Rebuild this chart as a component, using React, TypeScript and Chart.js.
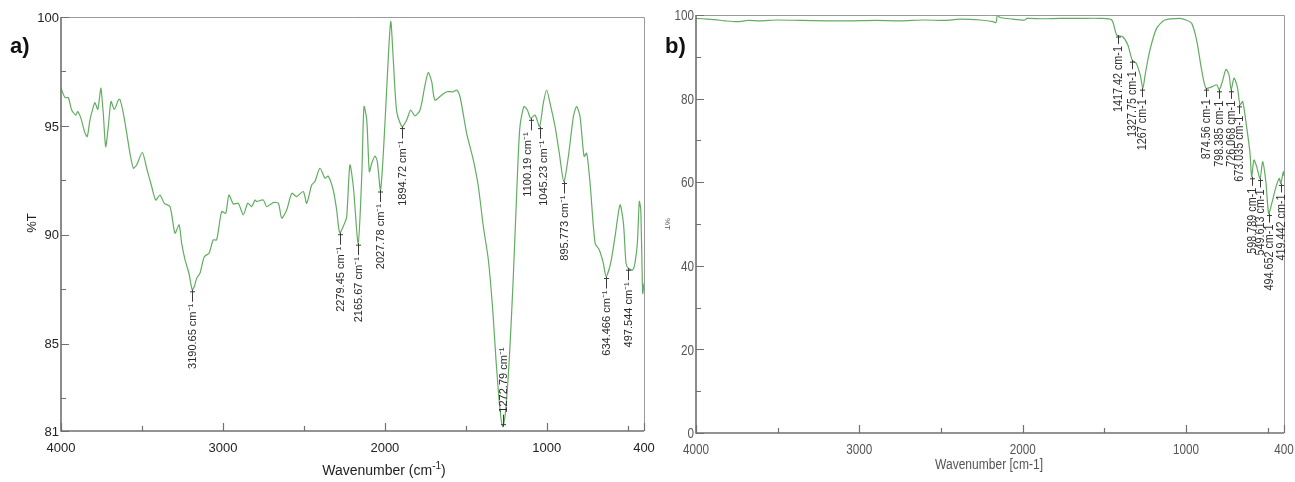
import React, { useEffect, useRef } from "react";
import { Chart, registerables } from "chart.js";

Chart.register(...registerables);

// ---------- Panel a) data ----------
const wnA = [
  4000, 3992, 3975, 3955, 3934, 3909, 3897, 3877, 3852, 3838, 3821, 3800, 3790, 3773, 3759, 3753, 3739, 3724, 3708, 3691,
  3671, 3646, 3636, 3615, 3594, 3574, 3553, 3533, 3498, 3471, 3440, 3415, 3389, 3362, 3327, 3296, 3271, 3255, 3234, 3210,
  3190, 3177, 3162, 3142, 3115, 3086, 3060, 3039, 3008, 2983, 2963, 2936, 2905, 2874, 2847, 2822, 2802, 2792, 2751, 2730,
  2689, 2658, 2637, 2606, 2575, 2545, 2504, 2483, 2452, 2432, 2401, 2370, 2350, 2319, 2298, 2279, 2253, 2236, 2216, 2195,
  2165, 2143, 2129, 2112, 2096, 2081, 2061, 2047, 2027, 2005, 1985, 1964, 1948, 1927, 1894, 1865, 1841, 1814, 1783, 1752,
  1732, 1711, 1691, 1649, 1618, 1577, 1557, 1536, 1495, 1454, 1423, 1392, 1361, 1334, 1314, 1289, 1272, 1256, 1232, 1207,
  1182, 1166, 1141, 1120, 1100, 1073, 1045, 1022, 1001, 980, 949, 923, 895, 867, 836, 816, 795, 770, 754, 733,
  702, 676, 651, 634, 606, 579, 548, 527, 511, 497, 470, 456, 441, 429, 420, 408, 400,
];
const tA = [
  96.73, 96.57, 96.3, 96.3, 95.73, 95.5, 95.66, 95.35, 94.68, 94.51, 95.28, 95.89, 96.07, 95.76, 96.5, 96.73, 95.58, 94.05, 94.97, 96.12,
  95.76, 96.19, 96.22, 95.58, 94.66, 93.74, 93.06, 93.21, 93.78, 93.06, 92.22, 91.6, 91.83, 91.45, 91.3, 90.08, 90.46, 89.62, 88.85, 88.24,
  87.48, 87.63, 88.01, 88.24, 89.0, 89.16, 89.77, 89.77, 91.07, 90.99, 91.83, 91.42, 91.45, 90.92, 91.45, 91.3, 91.6, 91.53, 91.6, 91.3,
  91.48, 91.45, 90.77, 91.15, 91.91, 91.76, 91.99, 91.45, 92.29, 92.45, 93.06, 92.6, 92.7, 92.06, 91.15, 90.1, 90.46, 90.84, 93.21, 92.22,
  89.62, 92.67, 95.89, 95.28, 92.9, 93.29, 93.62, 93.37, 92.06, 94.36, 97.26, 99.79, 98.03, 95.66, 94.97, 95.28, 95.73, 95.46, 95.73, 96.88,
  97.45, 97.03, 96.19, 96.42, 96.57, 96.57, 96.65, 96.34, 94.66, 93.44, 92.22, 90.38, 88.85, 86.56, 84.27, 81.97, 81.2, 81.82, 84.27, 88.09,
  92.67, 94.97, 95.89, 95.73, 95.35, 95.5, 94.97, 96.04, 96.65, 96.04, 94.97, 93.75, 92.45, 93.6, 95.43, 95.89, 95.43, 93.6, 93.75, 92.37,
  89.62, 89.31, 88.7, 88.09, 88.7, 89.92, 91.38, 90.54, 88.7, 88.47, 88.39, 88.7, 89.62, 91.53, 91.15, 87.32, 87.78,
];
const peakWnA = [3190.65, 2279.45, 2165.67, 2027.78, 1894.72, 1272.79, 1100.19, 1045.23, 895.773, 634.466, 497.544];
const peakTA = [87.48, 90.1, 89.62, 92.06, 94.97, 81.2, 95.35, 94.97, 92.45, 88.09, 88.47];
const peakLabelA = [
  "3190.65 cm⁻¹", "2279.45 cm⁻¹", "2165.67 cm⁻¹", "2027.78 cm⁻¹", "1894.72 cm⁻¹", "1272.79 cm⁻¹",
  "1100.19 cm⁻¹", "1045.23 cm⁻¹", "895.773 cm⁻¹", "634.466 cm⁻¹", "497.544 cm⁻¹",
];
const peakUpA = [false, false, false, false, false, true, false, false, false, false, false];
const xTickA = [4000, 3000, 2000, 1000, 400];
const xTickLabelA = ["4000", "3000", "2000", "1000", "400"];
const xMinorA = [3500, 2500, 1500, 500];
const yTickA = [100, 95, 90, 85, 81];
const yTickLabelA = ["100", "95", "90", "85", "81"];
const yMinorA = [97.5, 92.5, 87.5, 82.5];

// ---------- Panel b) data ----------
const wnB = [
  4000, 3930, 3884, 3820, 3749, 3680, 3608, 3500, 3363, 3200, 3057, 2900, 2751, 2600, 2480, 2384, 2260, 2182, 2163, 2155,
  2139, 2060, 1986, 1974, 1880, 1772, 1650, 1527, 1455, 1424, 1387, 1356, 1329, 1304, 1280, 1264, 1249, 1221, 1180, 1129,
  1037, 1000, 965, 935, 904, 878, 843, 812, 796, 775, 755, 736, 724, 706, 686, 669, 653, 629, 608, 598,
  584, 567, 547, 530, 510, 494, 475, 449, 429, 420, 404, 400,
];
const tB = [
  99.2, 99.0, 98.9, 98.6, 98.4, 98.7, 98.6, 98.8, 98.7, 98.6, 98.6, 98.7, 98.6, 98.8, 98.7, 99.0, 98.8, 98.4, 98.2, 100,
  99.4, 99.0, 98.8, 99.2, 99.1, 99.2, 99.2, 99.2, 98.8, 95.2, 94.8, 92.8, 89.2, 88.4, 85.6, 82.5, 86.0, 91.6, 96.8, 98.8,
  99.2, 98.8, 98.0, 94.0, 86.8, 82.5, 82.8, 83.3, 82.1, 84.4, 87.0, 85.6, 82.1, 84.9, 82.8, 78.5, 79.3, 73.3, 66.9, 61.3,
  65.3, 63.7, 60.9, 64.9, 59.7, 52.5, 54.9, 58.9, 60.9, 59.7, 62.5, 61.5,
];
const peakWnB = [1417.42, 1327.75, 1267, 874.56, 798.385, 726.068, 673.035, 598.789, 549.613, 494.652, 419.442];
const peakTB = [95.2, 89.2, 82.5, 82.5, 82.1, 82.1, 78.5, 61.3, 60.9, 52.5, 59.7];
const peakLabelB = [
  "1417.42 cm-1", "1327.75 cm-1", "1267 cm-1", "874.56 cm-1", "798.385 cm-1", "726.068 cm-1",
  "673.035 cm-1", "598.789 cm-1", "549.613 cm-1", "494.652 cm-1", "419.442 cm-1",
];
const xTickB = [4000, 3000, 2000, 1000, 400];
const xTickLabelB = ["4000", "3000", "2000", "1000", "400"];
const xMinorB = [3500, 2500, 1500, 500];
const yTickB = [100, 80, 60, 40, 20, 0];
const yTickLabelB = ["100", "80", "60", "40", "20", "0"];
const yMinorB = [90, 70, 50, 30, 10];

type PanelCfg = {
  xTick: number[];
  xTickLabel: string[];
  xMinor: number[];
  yTick: number[];
  yTickLabel: string[];
  yMinor: number[];
  tickFont: string;
  tickColor: string;
  tickSx: number;
  peakWn: number[];
  peakT: number[];
  peakLabel: string[];
  peakUp: boolean[];
  peakDx: number[];
  peakFont: string;
  peakColor: string;
  peakSx: number;
  markLen: number;
  letter: string;
  letterX: number;
  letterY: number;
  yTitle: string;
  yTitleX: number;
  yTitleY: number;
  yTitleFont: string;
  yTitleRot: number;
  xTitleParts: { text: string; font: string; dy: number }[];
  xTitleX: number;
  xTitleY: number;
  titleSx: number;
  titleColor: string;
};

function fillScaled(ctx: CanvasRenderingContext2D, text: string, x: number, y: number, sx: number) {
  ctx.save();
  ctx.translate(x, y);
  ctx.scale(sx, 1);
  ctx.fillText(text, 0, 0);
  ctx.restore();
}

function makeOverlay(cfg: PanelCfg) {
  return {
    id: "overlay",
    afterDatasetsDraw(chart: any) {
      const { ctx, chartArea: a, scales } = chart;
      const xs = scales.x;
      const ys = scales.y;
      ctx.save();
      // frame
      ctx.strokeStyle = "#9a9a9a";
      ctx.lineWidth = 1;
      ctx.beginPath();
      ctx.moveTo(a.left, a.top + 0.5);
      ctx.lineTo(a.right + 0.5, a.top + 0.5);
      ctx.lineTo(a.right + 0.5, a.bottom);
      ctx.stroke();
      ctx.strokeStyle = "#707070";
      ctx.lineWidth = 1.6;
      ctx.beginPath();
      ctx.moveTo(a.left, a.top);
      ctx.lineTo(a.left, a.bottom);
      ctx.lineTo(a.right, a.bottom);
      ctx.stroke();
      // ticks (inward)
      ctx.lineWidth = 1.2;
      ctx.beginPath();
      cfg.xTick.forEach((v) => {
        const px = Math.round(xs.getPixelForValue(v)) + 0.5;
        ctx.moveTo(px, a.bottom);
        ctx.lineTo(px, a.bottom - 8);
      });
      cfg.xMinor.forEach((v) => {
        const px = Math.round(xs.getPixelForValue(v)) + 0.5;
        ctx.moveTo(px, a.bottom);
        ctx.lineTo(px, a.bottom - 5);
      });
      cfg.yTick.forEach((v) => {
        const py = Math.round(ys.getPixelForValue(v)) + 0.5;
        ctx.moveTo(a.left, py);
        ctx.lineTo(a.left + 8, py);
      });
      cfg.yMinor.forEach((v) => {
        const py = Math.round(ys.getPixelForValue(v)) + 0.5;
        ctx.moveTo(a.left, py);
        ctx.lineTo(a.left + 5, py);
      });
      ctx.stroke();
      // tick labels
      ctx.fillStyle = cfg.tickColor;
      ctx.font = cfg.tickFont;
      ctx.textAlign = "center";
      ctx.textBaseline = "middle";
      cfg.xTick.forEach((v, i) => {
        fillScaled(ctx, cfg.xTickLabel[i], xs.getPixelForValue(v), a.bottom + 17, cfg.tickSx);
      });
      ctx.textAlign = "right";
      cfg.yTick.forEach((v, i) => {
        fillScaled(ctx, cfg.yTickLabel[i], a.left - 2, ys.getPixelForValue(v) + 1, cfg.tickSx);
      });
      // peak annotations
      ctx.strokeStyle = "#3a3a3a";
      ctx.lineWidth = 1;
      ctx.fillStyle = cfg.peakColor;
      ctx.font = cfg.peakFont;
      cfg.peakWn.forEach((wn, i) => {
        const px = Math.round(xs.getPixelForValue(wn)) + 0.5;
        const py = ys.getPixelForValue(cfg.peakT[i]);
        const up = cfg.peakUp[i];
        const dir = up ? -1 : 1;
        ctx.beginPath();
        ctx.moveTo(px, py);
        ctx.lineTo(px, py + dir * cfg.markLen);
        ctx.moveTo(px - 2.5, py + dir * 2);
        ctx.lineTo(px + 2.5, py + dir * 2);
        ctx.stroke();
        ctx.save();
        ctx.translate(px + cfg.peakDx[i], py + dir * (cfg.markLen + 2));
        ctx.rotate(-Math.PI / 2);
        ctx.scale(cfg.peakSx, 1);
        ctx.textAlign = up ? "left" : "right";
        ctx.textBaseline = "middle";
        ctx.fillText(cfg.peakLabel[i], 0, 0);
        ctx.restore();
      });
      // panel letter
      ctx.fillStyle = "#111";
      ctx.font = 'bold 22px "Liberation Sans", Arial, sans-serif';
      ctx.textAlign = "left";
      ctx.textBaseline = "middle";
      ctx.fillText(cfg.letter, cfg.letterX, cfg.letterY);
      // y title
      ctx.fillStyle = cfg.titleColor;
      ctx.font = cfg.yTitleFont;
      ctx.save();
      ctx.translate(cfg.yTitleX, cfg.yTitleY);
      ctx.rotate(cfg.yTitleRot);
      ctx.textAlign = "center";
      ctx.textBaseline = "middle";
      ctx.fillText(cfg.yTitle, 0, 0);
      ctx.restore();
      // x title (pieces, for superscripts)
      let total = 0;
      cfg.xTitleParts.forEach((p) => {
        ctx.font = p.font;
        total += ctx.measureText(p.text).width * cfg.titleSx;
      });
      let cx = cfg.xTitleX - total / 2;
      ctx.textAlign = "left";
      ctx.textBaseline = "middle";
      cfg.xTitleParts.forEach((p) => {
        ctx.font = p.font;
        fillScaled(ctx, p.text, cx, cfg.xTitleY + p.dy, cfg.titleSx);
        cx += ctx.measureText(p.text).width * cfg.titleSx;
      });
      ctx.restore();
    },
  };
}

const SANS = '"Liberation Sans", Arial, sans-serif';

export default function App() {
  const refA = useRef<HTMLCanvasElement | null>(null);
  const refB = useRef<HTMLCanvasElement | null>(null);

  useEffect(() => {
    const cfgA: PanelCfg = {
      xTick: xTickA,
      xTickLabel: xTickLabelA,
      xMinor: xMinorA,
      yTick: yTickA,
      yTickLabel: yTickLabelA,
      yMinor: yMinorA,
      tickFont: `13px ${SANS}`,
      tickColor: "#222",
      tickSx: 1,
      peakWn: peakWnA,
      peakT: peakTA,
      peakLabel: peakLabelA,
      peakUp: peakUpA,
      peakDx: [0, 0, 0, 0, 0, 0, -4, 3, 0, 0, 0],
      peakFont: `11px ${SANS}`,
      peakColor: "#2a2a2a",
      peakSx: 1,
      markLen: 12,
      letter: "a)",
      letterX: 10,
      letterY: 47,
      yTitle: "%T",
      yTitleX: 32,
      yTitleY: 223,
      yTitleFont: `13px ${SANS}`,
      yTitleRot: -Math.PI / 2,
      xTitleParts: [
        { text: "Wavenumber (cm", font: `14px ${SANS}`, dy: 0 },
        { text: "-1", font: `10px ${SANS}`, dy: -5 },
        { text: ")", font: `14px ${SANS}`, dy: 0 },
      ],
      xTitleX: 384,
      xTitleY: 471,
      titleSx: 1,
      titleColor: "#222",
    };
    const cfgB: PanelCfg = {
      xTick: xTickB,
      xTickLabel: xTickLabelB,
      xMinor: xMinorB,
      yTick: yTickB,
      yTickLabel: yTickLabelB,
      yMinor: yMinorB,
      tickFont: `15px ${SANS}`,
      tickColor: "#555",
      tickSx: 0.78,
      peakWn: peakWnB,
      peakT: peakTB,
      peakLabel: peakLabelB,
      peakUp: peakWnB.map(() => false),
      peakDx: peakWnB.map(() => 0),
      peakFont: `13px ${SANS}`,
      peakColor: "#333",
      peakSx: 0.83,
      markLen: 9,
      letter: "b)",
      letterX: 15,
      letterY: 47,
      yTitle: "%T",
      yTitleX: 17,
      yTitleY: 224,
      yTitleFont: `8px ${SANS}`,
      yTitleRot: Math.PI / 2,
      xTitleParts: [{ text: "Wavenumber [cm-1]", font: `14px ${SANS}`, dy: 0 }],
      xTitleX: 339,
      xTitleY: 465,
      titleSx: 0.86,
      titleColor: "#555",
    };

    const make = (
      canvas: HTMLCanvasElement,
      wn: number[],
      t: number[],
      yMin: number,
      yMax: number,
      padding: { left: number; top: number; right: number; bottom: number },
      cfg: PanelCfg
    ) =>
      new Chart(canvas, {
        type: "line",
        data: {
          datasets: [
            {
              data: wn.map((x, i) => ({ x, y: t[i] })),
              borderColor: "#62ad62",
              borderWidth: 1.2,
              pointRadius: 0,
              tension: 0.25,
              fill: false,
            },
          ],
        },
        options: {
          responsive: false,
          animation: false,
          layout: { padding },
          scales: {
            x: { type: "linear", reverse: true, min: 400, max: 4000, display: false },
            y: { type: "linear", min: yMin, max: yMax, display: false },
          },
          plugins: { legend: { display: false }, tooltip: { enabled: false } },
        },
        plugins: [makeOverlay(cfg)],
      } as any);

    const chartA = make(refA.current!, wnA, tA, 81, 100, { left: 61, top: 17, right: 24, bottom: 51 }, cfgA);
    const chartB = make(refB.current!, wnB, tB, 0, 100, { left: 46, top: 15, right: 11, bottom: 49 }, cfgB);
    return () => {
      chartA.destroy();
      chartB.destroy();
    };
  }, []);

  return (
    <div style={{ position: "fixed", left: 0, top: 0, width: 1295, height: 482, background: "#fff" }}>
      <canvas ref={refA} width={668} height={482} style={{ position: "absolute", left: 0, top: 0 }} />
      <canvas ref={refB} width={645} height={482} style={{ position: "absolute", left: 650, top: 0 }} />
    </div>
  );
}
